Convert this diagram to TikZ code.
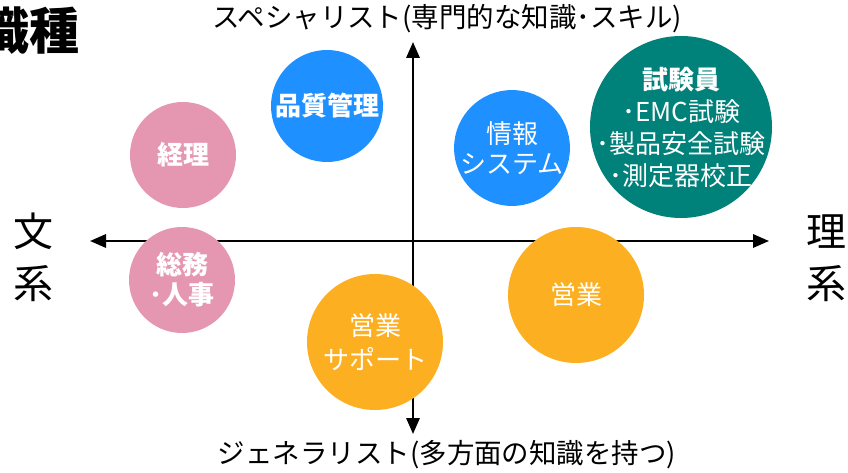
\documentclass[tikz,border=0pt]{standalone}
\usepackage{fontspec}
\setmainfont{Noto Sans CJK JP}
\usetikzlibrary{arrows.meta}
\definecolor{cblue}{HTML}{1F90FF}
\definecolor{cpink}{HTML}{E597B2}
\definecolor{cteal}{HTML}{00817A}
\definecolor{corange}{HTML}{FDAF22}
\tikzset{
  bubble/.style={circle, inner sep=0pt, text=white, align=center},
  bubbletext/.style={inner sep=0pt, text=white, align=center},
  axisline/.style={line width=1.6pt, {Triangle[length=12pt,width=10pt]}-{Triangle[length=12pt,width=10pt]}},
  axlabel/.style={font=\fontsize{20.6}{24}\selectfont, inner sep=0pt},
  sidelabel/.style={font=\fontsize{30}{39}\selectfont, align=center, inner sep=0pt},
}
\begin{document}
\begin{tikzpicture}[x=0.75pt,y=-0.75pt]
\useasboundingbox (0,0) rectangle (848,473);
% title
\node[anchor=east, inner sep=0pt, font=\fontsize{37.5}{40}\bfseries\selectfont] (title) at (80,31) {職種};
% axes
\coordinate (L) at (90,241);
\coordinate (R) at (769,241);
\coordinate (T) at (413,42);
\coordinate (B) at (413,434);
\draw[axisline] (L) -- (R);
\draw[axisline] (B) -- (T);
% axis labels
\node[axlabel] (top) at (447,19) {スペシャリスト(専門的な知識･スキル)};
\node[axlabel] (bottom) at (447,455) {ジェネラリスト(多方面の知識を持つ)};
\node[sidelabel] (bunkei) at (33,257) {文\\系};
\node[sidelabel] (rikei) at (826,258) {理\\系};
% bubbles
\node[bubble, fill=cblue, minimum size=84pt, font=\fontsize{19.5}{22.5}\bfseries\selectfont] (qa) at (327,106) {品質管理};
\node[bubble, fill=cpink, minimum size=79.5pt, font=\fontsize{19.5}{22.5}\bfseries\selectfont] (keiri) at (183,155) {経理};
\node[bubble, fill=cpink, minimum size=79.5pt, font=\fontsize{19.5}{22.5}\bfseries\selectfont] (somu) at (182,280) {総務\\･人事};
\node[bubble, fill=cblue, minimum size=85.5pt, font=\fontsize{19.5}{22.5}\selectfont] (info) at (512,148) {情報\\システム};
\node[bubble, fill=cteal, minimum size=136.5pt] (test) at (681,127) {};
\node[bubbletext, font=\fontsize{19.5}{24}\selectfont] (testtext) at (test.center) {{\bfseries 試験員}\\･EMC試験\\･製品安全試験\\･測定器校正};
\node[bubble, fill=corange, minimum size=102pt, font=\fontsize{19.5}{22.5}\selectfont] (sales) at (576,295) {営業};
\node[bubble, fill=corange, minimum size=102pt, font=\fontsize{19.5}{26}\selectfont] (support) at (375,342) {営業\\サポート};
\end{tikzpicture}
\end{document}
